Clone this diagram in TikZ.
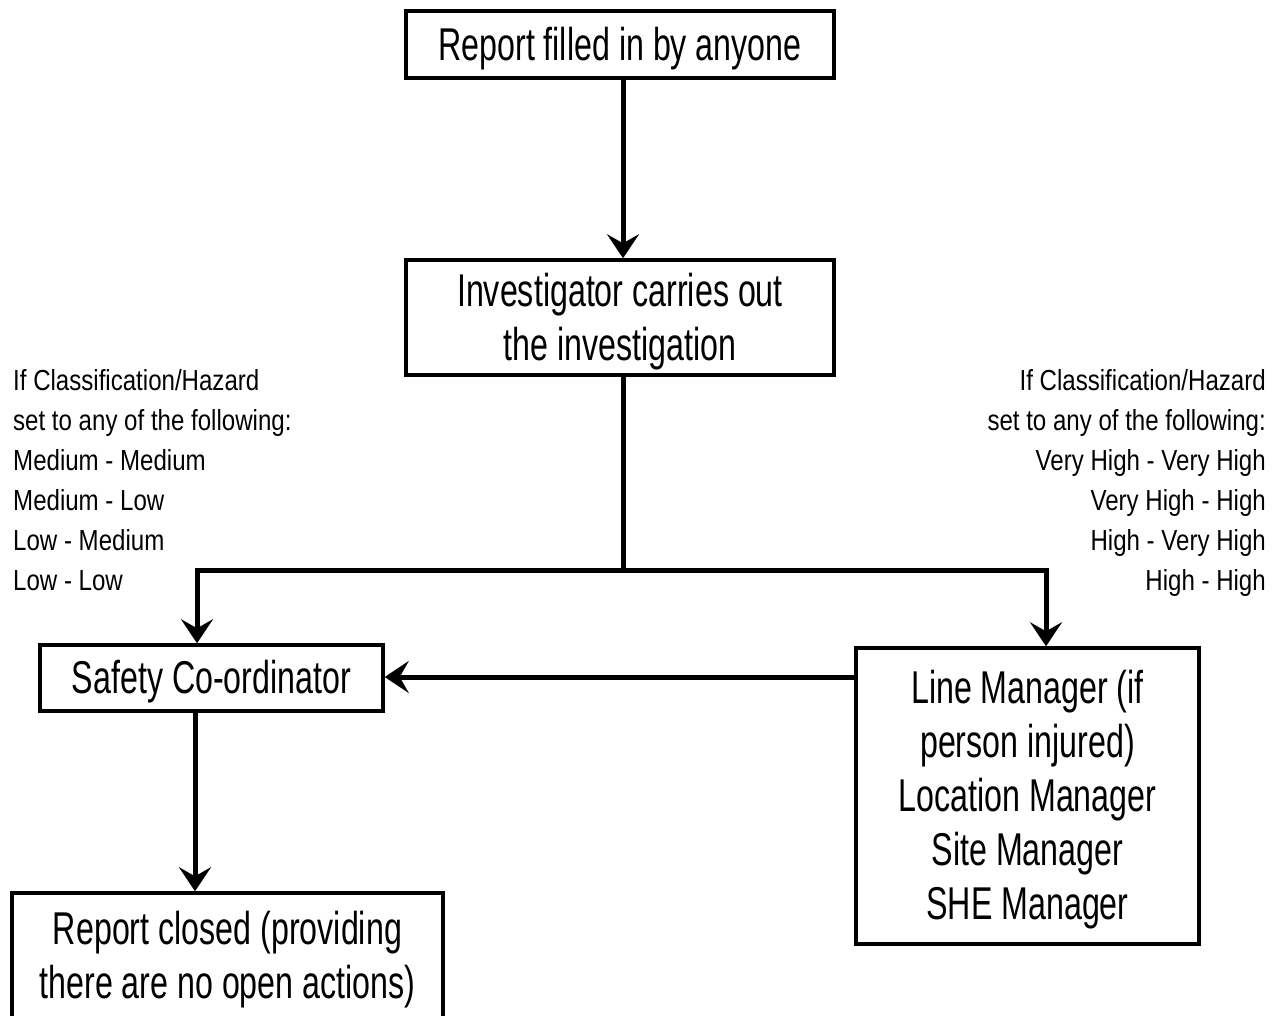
\documentclass[tikz,border=0pt]{standalone}
\usepackage{fontspec}
\setmainfont[FakeStretch=0.7]{Liberation Sans}
\newfontfamily\notefont[FakeStretch=0.83]{Liberation Sans}
\usetikzlibrary{arrows.meta}
\newcommand\boxtext[1]{\raisebox{-5pt}[\height][\depth]{\begin{tabular}{@{}c@{}}#1\end{tabular}}}
\begin{document}
\begin{tikzpicture}[x=1pt,y=-1pt,
  box/.style={draw,line width=3.5pt,inner sep=0pt,font=\fontsize{46}{54}\selectfont},
  note/.style={inner sep=0pt,font=\notefont\fontsize{29}{40}\selectfont},
  conn/.style={line width=5pt},
  arr/.style={line width=5pt,-{Stealth[length=24pt,width=32pt,inset=9pt]}}]
\useasboundingbox (0,0) rectangle (1283,1016);
\node[box,minimum width=428pt,minimum height=67pt] (b1) at (620,44.5) {\boxtext{Report filled in by anyone}};
\node[box,minimum width=428pt,minimum height=115pt] (b2) at (620,317.5) {\boxtext{Investigator carries out\\the investigation}};
\node[box,minimum width=343pt,minimum height=66pt] (b3) at (211.5,678) {\boxtext{Safety Co-ordinator}};
\node[box,minimum width=343pt,minimum height=296pt] (b4) at (1027.5,796) {\boxtext{Line Manager (if\\person injured)\\Location Manager\\Site Manager\\SHE Manager}};
\node[box,minimum width=431pt,minimum height=126pt] (b5) at (227.5,956) {\boxtext{Report closed (providing\\there are no open actions)}};
\node[note,anchor=north west,align=left] (nl) at (13,369) {If Classification/Hazard\\set to any of the following:\\Medium - Medium\\Medium - Low\\Low - Medium\\Low - Low};
\node[note,anchor=north east,align=right] (nr) at (1266,369) {If Classification/Hazard\\set to any of the following:\\Very High - Very High\\Very High - High\\High - Very High\\High - High};
\coordinate (j) at (623,570);
\coordinate (jl) at (197,570);
\coordinate (jr) at (1046,570);
\draw[arr] (b1.south -| j) -- (b2.north -| j);
\draw[conn] (b2.south -| j) -- (j);
\draw[arr] (j) -- (jl) -- (jl |- b3.north);
\draw[arr] (j) -- (jr) -- (jr |- b4.north);
\draw[arr] (b4.west |- 0,677) -- (b3.east |- 0,677);
\coordinate (d) at (195,0);
\draw[arr] (d |- b3.south) -- (d |- b5.north);
\end{tikzpicture}
\end{document}
